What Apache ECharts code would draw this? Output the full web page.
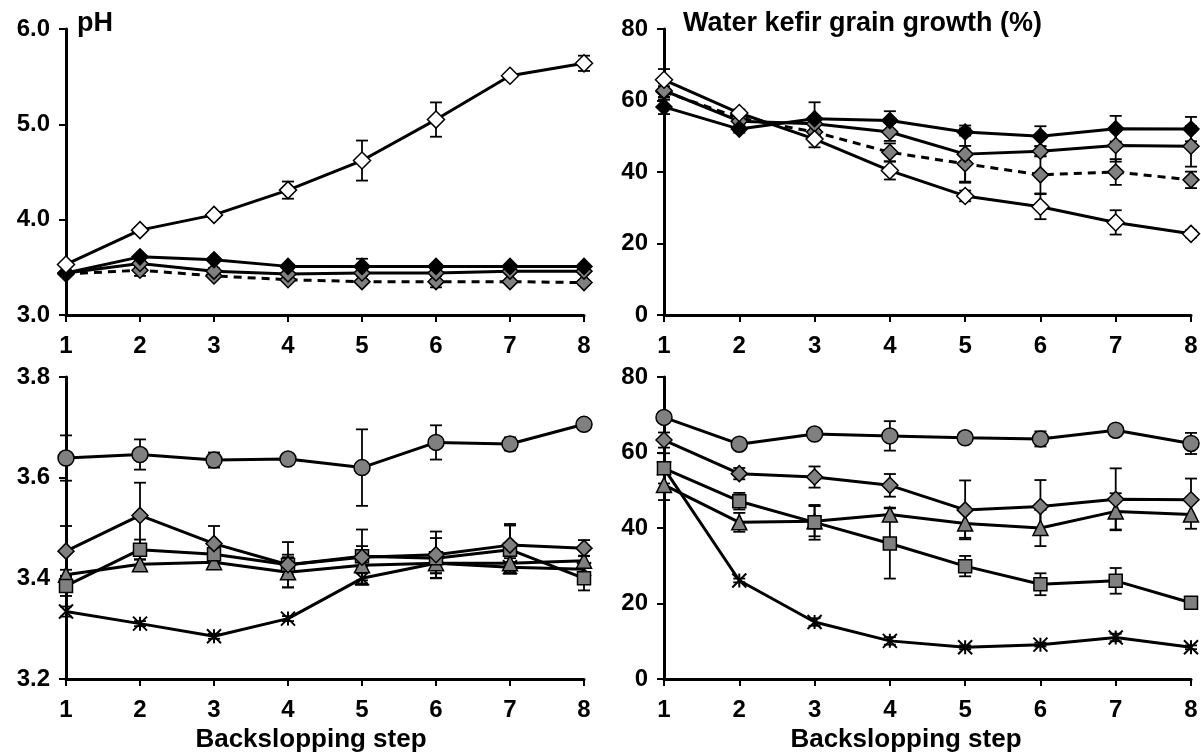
<!DOCTYPE html>
<html>
<head>
<meta charset="utf-8">
<script src="https://cdn.jsdelivr.net/npm/echarts@6/dist/echarts.min.js"></script>
<style>
  html, body { margin: 0; padding: 0; background: #fff; }
  #chart { width: 1201px; height: 755px; }
</style>
</head>
<body>
<div id="chart"></div>
<script>
const steps = [1, 2, 3, 4, 5, 6, 7, 8]

// top left: pH
const phOpen = [3.53, 3.89, 4.05, 4.31, 4.62, 5.05, 5.51, 5.64]
const phOpenSd = [0.02, 0.03, 0.03, 0.09, 0.21, 0.18, 0.02, 0.08]
const phBlack = [3.44, 3.61, 3.58, 3.51, 3.51, 3.51, 3.51, 3.51]
const phBlackSd = [0.01, 0.02, 0.02, 0.02, 0.08, 0.02, 0.02, 0.02]
const phGray = [3.44, 3.54, 3.46, 3.43, 3.44, 3.44, 3.46, 3.46]
const phGraySd = [0.01, 0.03, 0.03, 0.02, 0.03, 0.03, 0.02, 0.02]
const phDash = [3.43, 3.47, 3.41, 3.37, 3.35, 3.35, 3.35, 3.34]
const phDashSd = [0.01, 0.06, 0.02, 0.02, 0.02, 0.06, 0.02, 0.01]

// top right: grain growth (%)
const grBlack = [58.2, 52.0, 54.9, 54.4, 51.2, 50.0, 52.1, 52.0]
const grBlackSd = [2, 1, 4.6, 2.6, 1, 2.8, 3.6, 3.4]
const grGray = [62.8, 54.2, 53.5, 51.2, 45.0, 45.8, 47.4, 47.2]
const grGraySd = [2, 1.5, 2, 2.5, 8, 1.4, 4.5, 5.7]
const grDash = [62.5, 55.1, 51.2, 45.5, 42.3, 39.2, 40.0, 37.8]
const grDashSd = [1.5, 1.5, 2, 2.5, 5, 5.2, 3.6, 2.3]
const grOpen = [65.8, 56.5, 49.2, 40.4, 33.3, 30.3, 25.9, 22.7]
const grOpenSd = [3, 1, 2.3, 2.5, 1.5, 3.5, 3.4, 1]

// bottom left: pH
const lpCircle = [3.639, 3.646, 3.635, 3.637, 3.620, 3.670, 3.667, 3.706]
const lpCircleSd = [0.045, 0.03, 0.015, 0.01, 0.076, 0.034, 0.013, 0.01]
const lpDiamond = [3.454, 3.525, 3.469, 3.427, 3.442, 3.447, 3.466, 3.460]
const lpDiamondSd = [0.05, 0.065, 0.035, 0.045, 0.055, 0.046, 0.042, 0.016]
const lpSquare = [3.385, 3.457, 3.448, 3.427, 3.444, 3.440, 3.457, 3.400]
const lpSquareSd = [0.02, 0.02, 0.01, 0.02, 0.02, 0.04, 0.048, 0.024]
const lpTriangle = [3.407, 3.428, 3.432, 3.412, 3.426, 3.430, 3.430, 3.435]
const lpTriangleSd = [0.01, 0.01, 0.01, 0.03, 0.03, 0.02, 0.01, 0.01]
const lpStar = [3.334, 3.310, 3.285, 3.320, 3.400, 3.430, 3.422, 3.418]
const lpStarSd = [0.01, 0.005, 0.005, 0.005, 0.01, 0.02, 0.01, 0.01]

// bottom right: grain growth (%)
const gbCircle = [69.3, 62.2, 64.9, 64.4, 63.9, 63.6, 65.9, 62.4]
const gbCircleSd = [1, 1, 1, 3.9, 1, 2, 1, 2.8]
const gbDiamond = [63.3, 54.4, 53.5, 51.3, 44.8, 45.7, 47.6, 47.5]
const gbDiamondSd = [2, 1.5, 2.8, 3, 7.8, 7, 8.2, 5.6]
const gbSquare = [55.8, 47.1, 41.5, 35.9, 29.9, 25.1, 26.0, 20.2]
const gbSquareSd = [4, 2.2, 4.6, 9.3, 2.7, 2.9, 3.4, 1]
const gbTriangle = [51.4, 41.5, 41.8, 43.6, 41.2, 40.0, 44.4, 43.6]
const gbTriangleSd = [4, 2.5, 4, 1.8, 3.8, 4.8, 4.8, 3.8]
const gbStar = [55.8, 26.1, 15.1, 10.1, 8.4, 9.1, 11.0, 8.4]
const gbStarSd = [1, 0.5, 1, 1, 0.5, 0.5, 1, 0.5]

const phTicks = { min: 3, max: 6, interval: 1 }
const phZoomTicks = { min: 3.2, max: 3.8, interval: 0.2 }
const growthTicks = { min: 0, max: 80, interval: 20 }

const FONT = '"Liberation Sans", Arial, sans-serif'
const GRAY = '#808080'
const STAR = 'path://M0 0L10 10M10 0L0 10M5 0L5 10'

const grids = [
  { left: 66, top: 29, width: 518, height: 286 },
  { left: 664, top: 29, width: 527, height: 286 },
  { left: 66, top: 377, width: 518, height: 302 },
  { left: 664, top: 377, width: 527, height: 302 },
]

function xAxis(gridIndex) {
  return {
    type: 'value',
    gridIndex,
    min: 1,
    max: 8,
    interval: 1,
    axisLine: { lineStyle: { color: '#000', width: 3 } },
    axisTick: { length: 7, lineStyle: { color: '#000', width: 2 } },
    axisLabel: { color: '#000', fontSize: 24, fontWeight: 'bold', fontFamily: FONT, margin: 19 },
    splitLine: { show: false },
  }
}

function yAxis(gridIndex, ticks, digits) {
  return {
    type: 'value',
    gridIndex,
    min: ticks.min,
    max: ticks.max,
    interval: ticks.interval,
    axisLine: { show: true, lineStyle: { color: '#000', width: 3 } },
    axisTick: { show: true, length: 7, lineStyle: { color: '#000', width: 2 } },
    axisLabel: {
      color: '#000', fontSize: 24, fontWeight: 'bold', fontFamily: FONT, margin: 16,
      formatter: v => v.toFixed(digits),
    },
    splitLine: { show: false },
  }
}

function line(name, values, axis, symbol, fill, size, dashed) {
  return {
    name,
    type: 'line',
    xAxisIndex: axis,
    yAxisIndex: axis,
    data: steps.map((s, i) => [s, values[i]]),
    symbol,
    symbolSize: size,
    z: 3,
    lineStyle: { color: '#000', width: 3, type: dashed ? [8, 6] : 'solid' },
    itemStyle: { color: fill, borderColor: '#000', borderWidth: symbol === STAR ? 2 : 1.5 },
    emphasis: { disabled: true },
    animation: false,
  }
}

function errorBars(name, values, sd, axis) {
  return {
    name: name + ' sd',
    type: 'custom',
    xAxisIndex: axis,
    yAxisIndex: axis,
    z: 2,
    data: steps.map((s, i) => [s, values[i] - sd[i], values[i] + sd[i]]),
    encode: { x: 0, y: [1, 2] },
    renderItem: (params, api) => {
      const lo = api.coord([api.value(0), api.value(1)])
      const hi = api.coord([api.value(0), api.value(2)])
      const half = 6
      const style = { stroke: '#000', lineWidth: 1.8 }
      return {
        type: 'group',
        children: [
          { type: 'line', shape: { x1: lo[0], y1: lo[1], x2: hi[0], y2: hi[1] }, style },
          { type: 'line', shape: { x1: hi[0] - half, y1: hi[1], x2: hi[0] + half, y2: hi[1] }, style },
          { type: 'line', shape: { x1: lo[0] - half, y1: lo[1], x2: lo[0] + half, y2: lo[1] }, style },
        ],
      }
    },
    animation: false,
  }
}

const panels = [
  [
    ['dashed gray', phDash, phDashSd, 'diamond', GRAY, 16, true],
    ['gray', phGray, phGraySd, 'diamond', GRAY, 16, false],
    ['black', phBlack, phBlackSd, 'diamond', '#000', 16, false],
    ['open', phOpen, phOpenSd, 'diamond', '#fff', 17, false],
  ],
  [
    ['dashed gray', grDash, grDashSd, 'diamond', GRAY, 16, true],
    ['gray', grGray, grGraySd, 'diamond', GRAY, 16, false],
    ['black', grBlack, grBlackSd, 'diamond', '#000', 16, false],
    ['open', grOpen, grOpenSd, 'diamond', '#fff', 17, false],
  ],
  [
    ['star', lpStar, lpStarSd, STAR, '#000', 14, false],
    ['triangle', lpTriangle, lpTriangleSd, 'triangle', GRAY, 15, false],
    ['square', lpSquare, lpSquareSd, 'rect', GRAY, 13, false],
    ['diamond', lpDiamond, lpDiamondSd, 'diamond', GRAY, 16, false],
    ['circle', lpCircle, lpCircleSd, 'circle', GRAY, 16, false],
  ],
  [
    ['star', gbStar, gbStarSd, STAR, '#000', 14, false],
    ['triangle', gbTriangle, gbTriangleSd, 'triangle', GRAY, 15, false],
    ['square', gbSquare, gbSquareSd, 'rect', GRAY, 13, false],
    ['diamond', gbDiamond, gbDiamondSd, 'diamond', GRAY, 16, false],
    ['circle', gbCircle, gbCircleSd, 'circle', GRAY, 16, false],
  ],
]

const series = []
panels.forEach((list, axis) => {
  list.forEach(([name, values, sd, symbol, fill, size, dashed]) => {
    series.push(errorBars(name, values, sd, axis))
    series.push(line(name, values, axis, symbol, fill, size, dashed))
  })
})

const titleStyle = { color: '#000', fontSize: 27, fontWeight: 'bold', fontFamily: FONT }
const nameStyle = { text: 'Backslopping step', fill: '#000', fontSize: 26, fontWeight: 'bold', fontFamily: FONT, align: 'center', verticalAlign: 'middle' }

const option = {
  backgroundColor: '#fff',
  animation: false,
  title: [
    { text: 'pH', left: 77, top: 10, padding: 0, textStyle: titleStyle },
    { text: 'Water kefir grain growth (%)', left: 683, top: 10, padding: 0, textStyle: titleStyle },
  ],
  graphic: [
    { type: 'text', x: 311, y: 740, style: nameStyle },
    { type: 'text', x: 906, y: 740, style: nameStyle },
  ],
  grid: grids,
  xAxis: [xAxis(0), xAxis(1), xAxis(2), xAxis(3)],
  yAxis: [
    yAxis(0, phTicks, 1),
    yAxis(1, growthTicks, 0),
    yAxis(2, phZoomTicks, 1),
    yAxis(3, growthTicks, 0),
  ],
  series,
}

const chart = echarts.init(document.getElementById('chart'))
chart.setOption(option)
</script>
</body>
</html>
